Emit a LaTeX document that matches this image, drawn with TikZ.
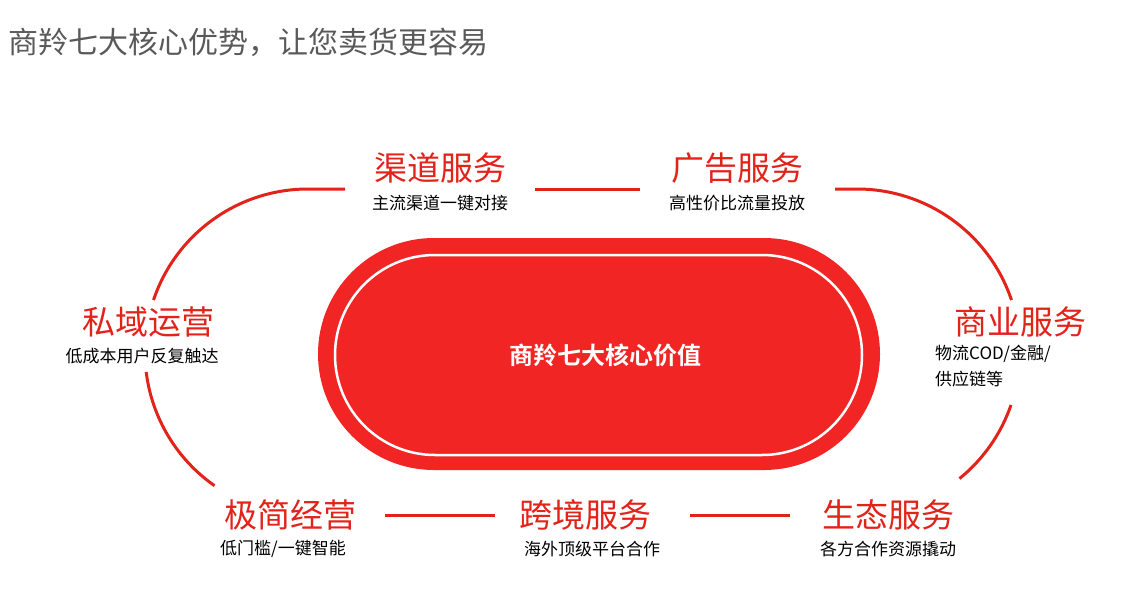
\documentclass[tikz,border=0pt]{standalone}
\usepackage{fontspec}
\setmainfont{Noto Sans CJK SC}
\newfontfamily\cjkbold[BoldFont={Noto Sans CJK SC Bold}]{Noto Sans CJK SC}
\definecolor{trackred}{HTML}{E2231A}
\definecolor{pillred}{HTML}{F22525}
\definecolor{titlegray}{HTML}{595959}
\tikzset{
  heading/.style={text=trackred,font=\fontsize{33}{36}\selectfont,inner sep=0pt},
  subtext/.style={text=black,font=\fontsize{17}{26}\selectfont,inner sep=0pt},
  track/.style={draw=trackred,line width=3pt}
}
\begin{document}
\begin{tikzpicture}[x=1pt,y=-1pt]
\useasboundingbox (0,0) rectangle (1144,592);
% title
\node[anchor=west,text=titlegray,font=\fontsize{30}{34}\selectfont,inner sep=0pt] (title) at (8,42) {商羚七大核心优势，让您卖货更容易};
% outer track
\draw[track] (345,189) -- (308,189) arc[start angle=270,end angle=198.6,radius=163];
\draw[track] (146.2,372) arc[start angle=173,end angle=125,radius=163];
\draw[track] (535,189) -- (640,189);
\draw[track] (835,189) -- (857,189) arc[start angle=270,end angle=341.4,radius=163];
\draw[track] (1011,405) arc[start angle=19,end angle=51,radius=163];
\draw[track] (385,515) -- (495,515);
\draw[track] (690,515) -- (790,515);
% centre
\node[fill=pillred,rounded corners=116pt,minimum width=562pt,minimum height=232pt] (core) at (599,354) {};
\draw[white,line width=2.5pt,rounded corners=100pt] (335,255) rectangle (862,455);
\node[text=white,font=\cjkbold\bfseries\fontsize{24}{28}\selectfont] (coretext) at (605,355) {商羚七大核心价值};
% labels
\node[heading] (qudao) at (440,168) {渠道服务};
\node[subtext] (qudaosub) at (440,203) {主流渠道一键对接};
\node[heading] (guanggao) at (737,168) {广告服务};
\node[subtext] (guanggaosub) at (737,203) {高性价比流量投放};
\node[heading] (siyu) at (148,322) {私域运营};
\node[subtext] (siyusub) at (142,356) {低成本用户反复触达};
\node[heading] (shangye) at (1020,322) {商业服务};
\node[subtext,anchor=north west,align=left] (shangyesub) at (935,345) {物流COD/金融/\\供应链等};
\node[heading] (jijian) at (290,515) {极简经营};
\node[subtext] (jijiansub) at (283,549) {低门槛/一键智能};
\node[heading] (kuajing) at (585,515) {跨境服务};
\node[subtext] (kuajingsub) at (592,549) {海外顶级平台合作};
\node[heading] (shengtai) at (888,515) {生态服务};
\node[subtext] (shengtaisub) at (888,549) {各方合作资源撬动};
\end{tikzpicture}
\end{document}
